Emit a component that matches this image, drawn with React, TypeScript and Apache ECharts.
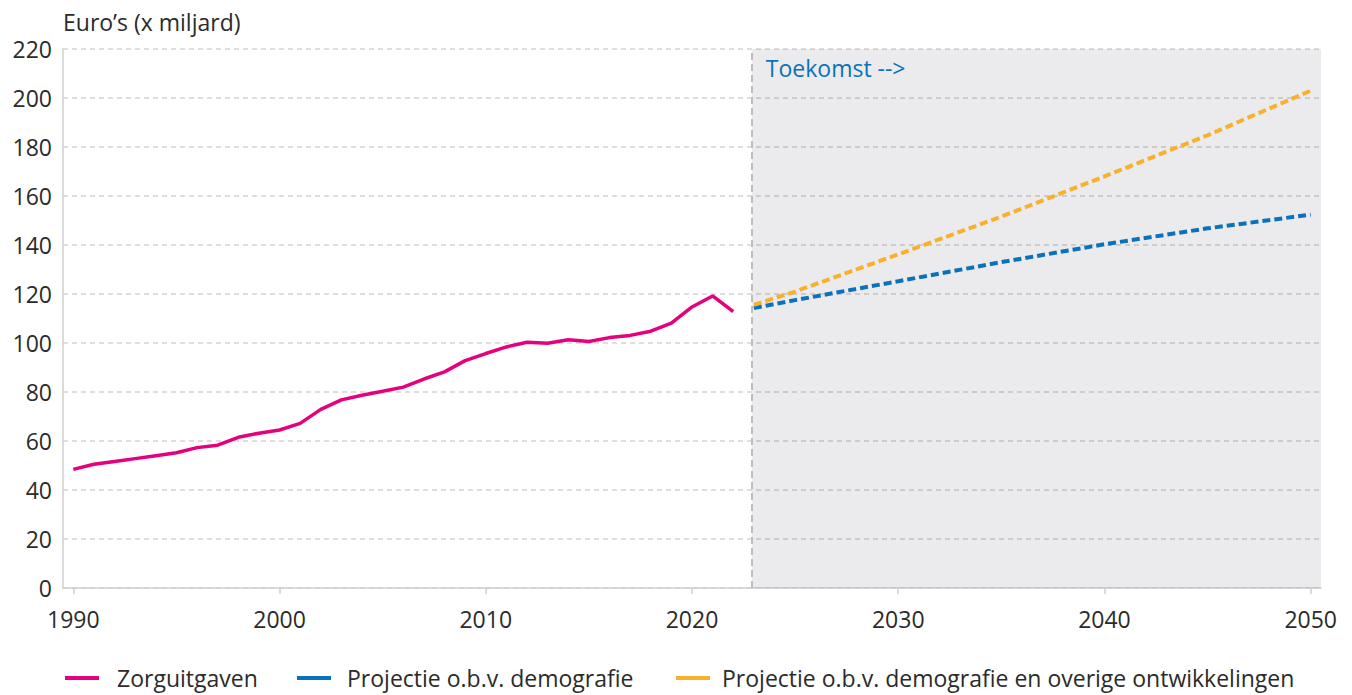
import React, { useEffect, useRef } from "react";
import * as echarts from "echarts";

const FONT = "Open Sans";
const FONT_SIZE = 23;

const historicYears = [
  1990, 1991, 1992, 1993, 1994, 1995, 1996, 1997, 1998, 1999,
  2000, 2001, 2002, 2003, 2004, 2005, 2006, 2007, 2008, 2009,
  2010, 2011, 2012, 2013, 2014, 2015, 2016, 2017, 2018, 2019,
  2020, 2021, 2022,
];
const zorguitgaven = [
  48.4, 50.5, 51.6, 52.8, 54.0, 55.2, 57.3, 58.3, 61.5, 63.2,
  64.5, 67.2, 72.9, 76.8, 78.7, 80.3, 82.0, 85.3, 88.2, 92.8,
  95.7, 98.4, 100.3, 99.9, 101.3, 100.6, 102.2, 103.1, 104.8, 108.1,
  114.7, 119.2, 112.8,
];

const projectionYears = [2023, 2025, 2030, 2035, 2040, 2045, 2050];
const demografie = [114.3, 117.5, 125.2, 133.0, 140.3, 146.8, 152.4];
const demografieOverig = [115.6, 121.0, 136.2, 151.6, 168.0, 184.8, 203.0];

const xTickLabels = [1990, 2000, 2010, 2020, 2030, 2040, 2050];
const futureStart = 2022.9;

const NAME_HIST = "Zorguitgaven";
const NAME_DEMO = "Projectie o.b.v. demografie";
const NAME_OVERIG = "Projectie o.b.v. demografie en overige ontwikkelingen";

const PINK = "#e5007d";
const BLUE = "#0a72ba";
const ORANGE = "#f9b02c";
const TEXT = "#2b2b2b";

export default function App() {
  const ref = useRef<HTMLDivElement>(null);

  useEffect(() => {
    if (!ref.current) return;
    const chart = echarts.init(ref.current, null, { renderer: "svg" });

    const legendItem = (left: number, name: string, gap: number) => ({
      orient: "horizontal",
      left,
      top: 666,
      padding: 0,
      icon: "rect",
      itemWidth: 34,
      itemHeight: 4,
      selectedMode: false,
      data: [name],
      textStyle: {
        fontFamily: FONT,
        fontSize: FONT_SIZE,
        color: TEXT,
        padding: [0, 0, 0, gap],
        lineHeight: 24,
      },
    });

    chart.setOption({
      animation: false,
      backgroundColor: "#ffffff",
      textStyle: { fontFamily: FONT },
      grid: {
        left: 63,
        right: 31,
        top: 49,
        bottom: 107,
        containLabel: false,
        outerBoundsMode: "none",
      },
      legend: [
        legendItem(65, NAME_HIST, 13),
        legendItem(297, NAME_DEMO, 11),
        legendItem(676, NAME_OVERIG, 7),
      ],
      xAxis: {
        type: "value",
        min: 1989.5,
        max: 2050.5,
        splitLine: { show: false },
        axisLine: { show: true, lineStyle: { color: "#cfcfcf", width: 1.5 } },
        axisTick: {
          show: true,
          length: 6,
          customValues: xTickLabels,
          lineStyle: { color: "#cfcfcf", width: 1.5 },
        },
        axisLabel: {
          customValues: xTickLabels,
          fontFamily: FONT,
          fontSize: FONT_SIZE,
          color: TEXT,
          margin: 19,
          formatter: (v: number) => String(v),
        },
      },
      yAxis: {
        type: "value",
        min: 0,
        max: 220,
        interval: 20,
        name: "Euro’s (x miljard)",
        nameLocation: "end",
        nameGap: 27,
        nameTextStyle: {
          fontFamily: FONT,
          fontSize: FONT_SIZE,
          color: TEXT,
          align: "left",
          verticalAlign: "middle",
        },
        axisLine: { show: true, lineStyle: { color: "#cfcfcf", width: 1.5 } },
        axisTick: { show: false },
        axisLabel: {
          fontFamily: FONT,
          fontSize: FONT_SIZE,
          color: TEXT,
          margin: 11,
        },
        splitLine: {
          show: true,
          lineStyle: { color: "#d4d4d4", width: 1.5, type: [5, 4] },
        },
      },
      series: [
        {
          name: NAME_HIST,
          type: "line",
          symbol: "none",
          data: historicYears.map((y, i) => [y, zorguitgaven[i]]),
          lineStyle: { color: PINK, width: 3.5 },
          itemStyle: { color: PINK },
          z: 3,
        },
        {
          name: NAME_DEMO,
          type: "line",
          symbol: "none",
          data: projectionYears.map((y, i) => [y, demografie[i]]),
          lineStyle: { color: BLUE, width: 4, type: [8, 4] },
          itemStyle: { color: BLUE },
          z: 3,
          markArea: {
            silent: true,
            itemStyle: { color: "rgba(20,20,60,0.085)" },
            label: {
              show: true,
              position: "insideTopLeft",
              distance: 0,
              offset: [14, 7],
              fontFamily: FONT,
              fontSize: FONT_SIZE,
              color: BLUE,
            },
            data: [[{ xAxis: futureStart, name: "Toekomst -->" }, { xAxis: 2050.5 }]],
          },
          markLine: {
            silent: true,
            symbol: "none",
            label: { show: false },
            lineStyle: { color: "#bdbdbd", width: 2, type: [7, 4] },
            data: [{ xAxis: futureStart }],
          },
        },
        {
          name: NAME_OVERIG,
          type: "line",
          symbol: "none",
          data: projectionYears.map((y, i) => [y, demografieOverig[i]]),
          lineStyle: { color: ORANGE, width: 4, type: [8, 4] },
          itemStyle: { color: ORANGE },
          z: 3,
        },
      ],
    });

    return () => chart.dispose();
  }, []);

  return (
    <div
      ref={ref}
      style={{ position: "fixed", left: 0, top: 0, width: 1352, height: 695 }}
    />
  );
}
